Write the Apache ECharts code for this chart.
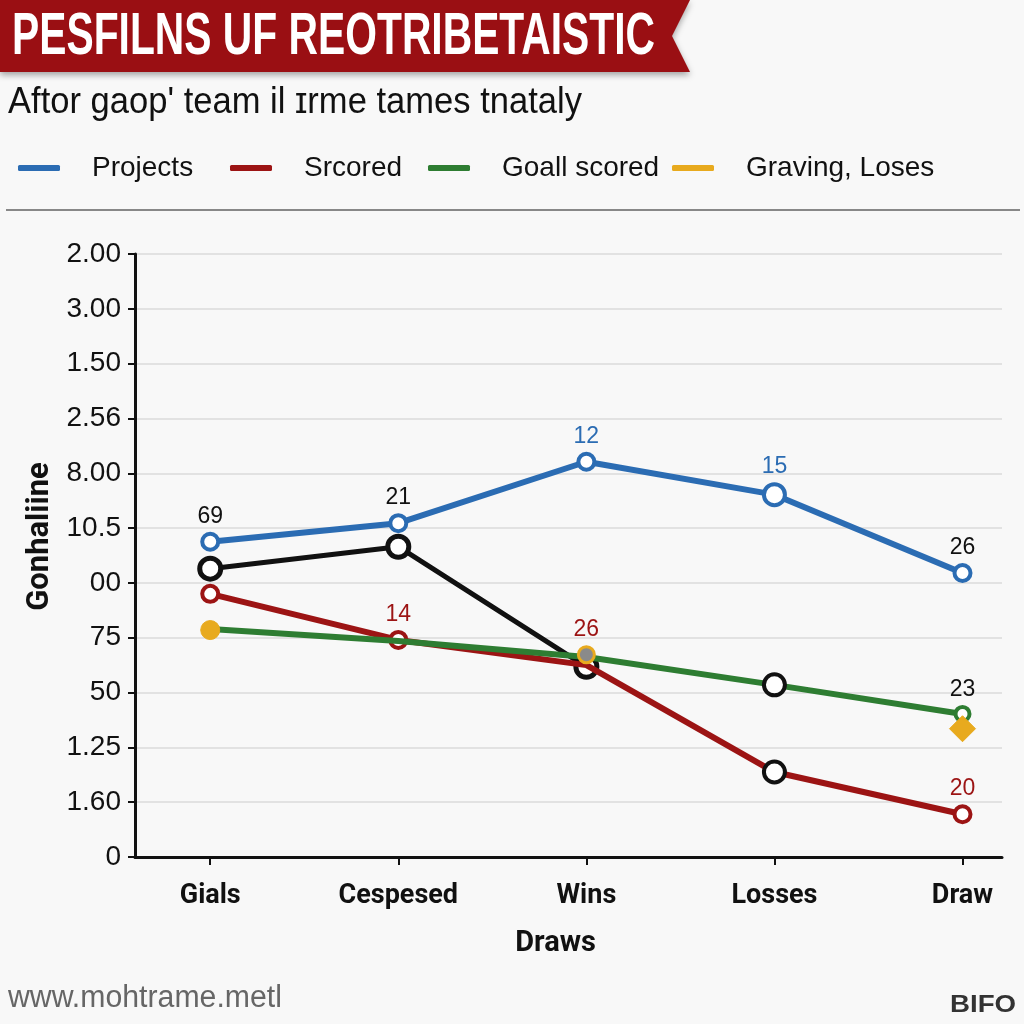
<!DOCTYPE html>
<html>
<head>
<meta charset="utf-8">
<script src="https://cdn.jsdelivr.net/npm/echarts@6/dist/echarts.min.js"></script>
<style>
html,body{margin:0;padding:0;background:#f8f8f8;}
#chart{width:1024px;height:1024px;}
</style>
</head>
<body>
<div id="chart"></div>
<script>
// ---- data ----
var categories = ['Gials', 'Cespesed', 'Wins', 'Losses', 'Draw'];
var yTickLabels = ['0', '1.60', '1.25', '50', '75', '00', '10.5', '8.00', '2.56', '1.50', '3.00', '2.00'];
var legendNames = ['Projects', 'Srcored', 'Goall scored', 'Graving, Loses'];

var projects = [5.75, 6.09, 7.21, 6.61, 5.18];
var projectsLabels = ['69', '21', '12', '15', '26'];

var srcored = [4.80, 3.96, 3.50, 1.55, 0.78];
var srcoredLabels = ['', '14', '', '', '20'];

var goallScored = [4.16, 3.94, 3.65, 3.14, 2.61];
var goallLabels = ['', '', '', '', '23'];

var gravingLoses = [4.14, null, 3.69, null, 2.34];
var gravingLabels = ['', '', '26', '', ''];

var blackLine = [5.26, 5.66, 3.47, null, null];

// ---- styles ----
var SANS = '"Liberation Sans", Arial, sans-serif';
var BOLDC = 'Roboto, "Liberation Sans", sans-serif';
var BLUE = '#2b6cb3', RED = '#9c1414', GREEN = '#2e7d32', YELLOW = '#e8aa1e', BLACK = '#111111';
var legendColors = [BLUE, RED, GREEN, YELLOW];
var legendLeft = [13, 225, 423, 667];

function pairs(arr) {
  return arr.map(function (v, i) { return v === null ? null : [i, v]; });
}

var mctx = document.createElement('canvas').getContext('2d');
function fitScale(text, font, target) {
  mctx.font = font;
  return target / mctx.measureText(text).width;
}

var blueLabelColors = [BLACK, BLACK, BLUE, BLUE, BLACK];

var blueData = pairs(projects).map(function (p, i) {
  return {
    value: p,
    symbolSize: i === 3 ? 21 : 16,
    label: { show: true, formatter: projectsLabels[i], color: blueLabelColors[i] }
  };
});

var redData = pairs(srcored).map(function (p, i) {
  var d = { value: p, label: { show: !!srcoredLabels[i], formatter: srcoredLabels[i], color: RED } };
  if (i === 3) { d.itemStyle = { borderColor: BLACK }; d.symbolSize = 21; }
  if (i === 2) d.symbol = 'none';
  return d;
});

var greenData = pairs(goallScored).map(function (p, i) {
  var d = { value: p, label: { show: !!goallLabels[i], formatter: goallLabels[i], color: BLACK } };
  if (i === 0 || i === 1 || i === 2) d.symbol = 'none';
  if (i === 3) { d.itemStyle = { borderColor: BLACK }; d.symbolSize = 21; }
  return d;
});

var yellowData = pairs(gravingLoses).map(function (p, i) {
  if (!p) return null;
  var d = { value: p, label: { show: !!gravingLabels[i], formatter: gravingLabels[i], color: RED, distance: 4 } };
  if (i === 0) { d.symbol = 'circle'; d.symbolSize = 19; d.itemStyle = { color: YELLOW, borderColor: YELLOW }; }
  if (i === 2) { d.symbol = 'circle'; d.symbolSize = 16; d.itemStyle = { color: '#8a8a8a', borderColor: YELLOW, borderWidth: 3 }; }
  if (i === 4) { d.symbol = 'diamond'; d.symbolSize = 26; d.itemStyle = { color: YELLOW, borderColor: YELLOW }; }
  return d;
});

var legends = legendNames.map(function (n, i) {
  return {
    left: legendLeft[i], top: 149,
    icon: 'roundRect',
    itemWidth: 42, itemHeight: 6,
    data: [{ name: n, itemStyle: { color: legendColors[i], borderWidth: 0 } }],
    textStyle: { fontFamily: SANS, fontSize: 28, color: '#111', padding: [0, 0, 0, 27] }
  };
});

var chart = echarts.init(document.getElementById('chart'));

var labelStyle = { fontFamily: SANS, fontSize: 23, position: 'top', distance: 4 };

var titleText = 'PESFILNS UF REOTRIBETAISTIC';
var titleFont = 'bold 60px ' + SANS;
var subText = "Aftor gaop' team il \u026Arme tames tnataly";
var subFont = '37px ' + SANS;
var footText = 'www.mohtrame.metl';
var footFont = '31px ' + SANS;
var markText = 'BIFO';
var markFont = 'bold 24px ' + SANS;

chart.setOption({
  backgroundColor: '#f8f8f8',
  animation: false,
  grid: { left: 135, right: 22, top: 254, bottom: 167 },
  legend: legends,
  xAxis: {
    type: 'value', min: -0.4, max: 4.21,
    name: 'Draws', nameLocation: 'middle', nameGap: 72,
    nameTextStyle: { fontFamily: BOLDC, fontSize: 29, fontWeight: 'bold', color: '#111', padding: [0, 26, 0, 0] },
    axisLine: { lineStyle: { color: '#111', width: 3 } },
    axisTick: { show: true, customValues: [0, 1, 2, 3, 4], length: 8, inside: false, lineStyle: { color: '#111', width: 2 } },
    axisLabel: {
      customValues: [0, 1, 2, 3, 4], margin: 26,
      fontFamily: BOLDC, fontSize: 27, fontWeight: 'bold', color: '#111',
      formatter: function (v) { return categories[Math.round(v)] || ''; }
    },
    splitLine: { show: false }
  },
  yAxis: {
    type: 'value', min: 0, max: 11, interval: 1,
    name: 'Gonhaliine', nameLocation: 'middle', nameGap: 70, nameRotate: 90,
    nameTextStyle: { fontFamily: BOLDC, fontSize: 31, fontWeight: 'bold', color: '#111', padding: [0, 0, 0, 38] },
    axisLine: { show: true, onZero: false, lineStyle: { color: '#111', width: 3 } },
    axisTick: { show: true, length: 7, lineStyle: { color: '#111', width: 2 } },
    axisLabel: {
      margin: 14, fontFamily: SANS, fontSize: 28, color: '#111',
      formatter: function (v) { return yTickLabels[Math.round(v)]; }
    },
    splitLine: { show: true, lineStyle: { color: '#e2e2e2', width: 2 } }
  },
  series: [
    {
      name: 'Black', type: 'line', data: pairs(blackLine), z: 3,
      lineStyle: { color: BLACK, width: 5 },
      itemStyle: { color: '#ffffff', borderColor: BLACK, borderWidth: 5 },
      symbol: 'circle', symbolSize: 21, connectNulls: false
    },
    {
      name: 'Srcored', type: 'line', data: redData, z: 4,
      color: RED,
      lineStyle: { color: RED, width: 6 },
      itemStyle: { color: '#ffffff', borderColor: RED, borderWidth: 4 },
      symbol: 'circle', symbolSize: 16,
      label: labelStyle
    },
    {
      name: 'Goall scored', type: 'line', data: greenData, z: 5,
      color: GREEN,
      lineStyle: { color: GREEN, width: 6 },
      itemStyle: { color: '#ffffff', borderColor: GREEN, borderWidth: 4 },
      symbol: 'circle', symbolSize: 14,
      label: labelStyle
    },
    {
      name: 'Graving, Loses', type: 'line', data: yellowData, z: 6,
      color: YELLOW,
      lineStyle: { width: 0, opacity: 0 },
      itemStyle: { color: YELLOW },
      label: labelStyle,
      connectNulls: false
    },
    {
      name: 'Projects', type: 'line', data: blueData, z: 7,
      color: BLUE,
      lineStyle: { color: BLUE, width: 6 },
      itemStyle: { color: '#ffffff', borderColor: BLUE, borderWidth: 4 },
      symbol: 'circle',
      label: labelStyle
    }
  ],
  graphic: [
    {
      type: 'polygon', z: 10,
      shape: { points: [[0, 0], [690, 0], [672, 36], [690, 72], [0, 72]] },
      style: { fill: '#9a0f13', shadowBlur: 6, shadowColor: 'rgba(0,0,0,0.35)', shadowOffsetY: 3 }
    },
    {
      type: 'text', z: 11, x: 12, y: 37, scaleX: fitScale(titleText, titleFont, 643),
      style: { text: titleText, fill: '#ffffff', font: titleFont, textVerticalAlign: 'middle' }
    },
    {
      type: 'text', z: 11, x: 8, y: 103, scaleX: fitScale(subText, subFont, 574),
      style: { text: subText, fill: '#111111', font: subFont, textVerticalAlign: 'middle' }
    },
    {
      type: 'line', z: 11,
      shape: { x1: 6, y1: 210, x2: 1020, y2: 210 },
      style: { stroke: '#888888', lineWidth: 2 }
    },
    {
      type: 'text', z: 11, x: 8, y: 998, scaleX: fitScale(footText, footFont, 274),
      style: { text: footText, fill: '#666666', font: footFont, textVerticalAlign: 'middle' }
    },
    {
      type: 'text', z: 11, x: 950, y: 1005, scaleX: fitScale(markText, markFont, 66),
      style: { text: markText, fill: '#333333', font: markFont, textVerticalAlign: 'middle' }
    }
  ]
});
</script>
</body>
</html>
